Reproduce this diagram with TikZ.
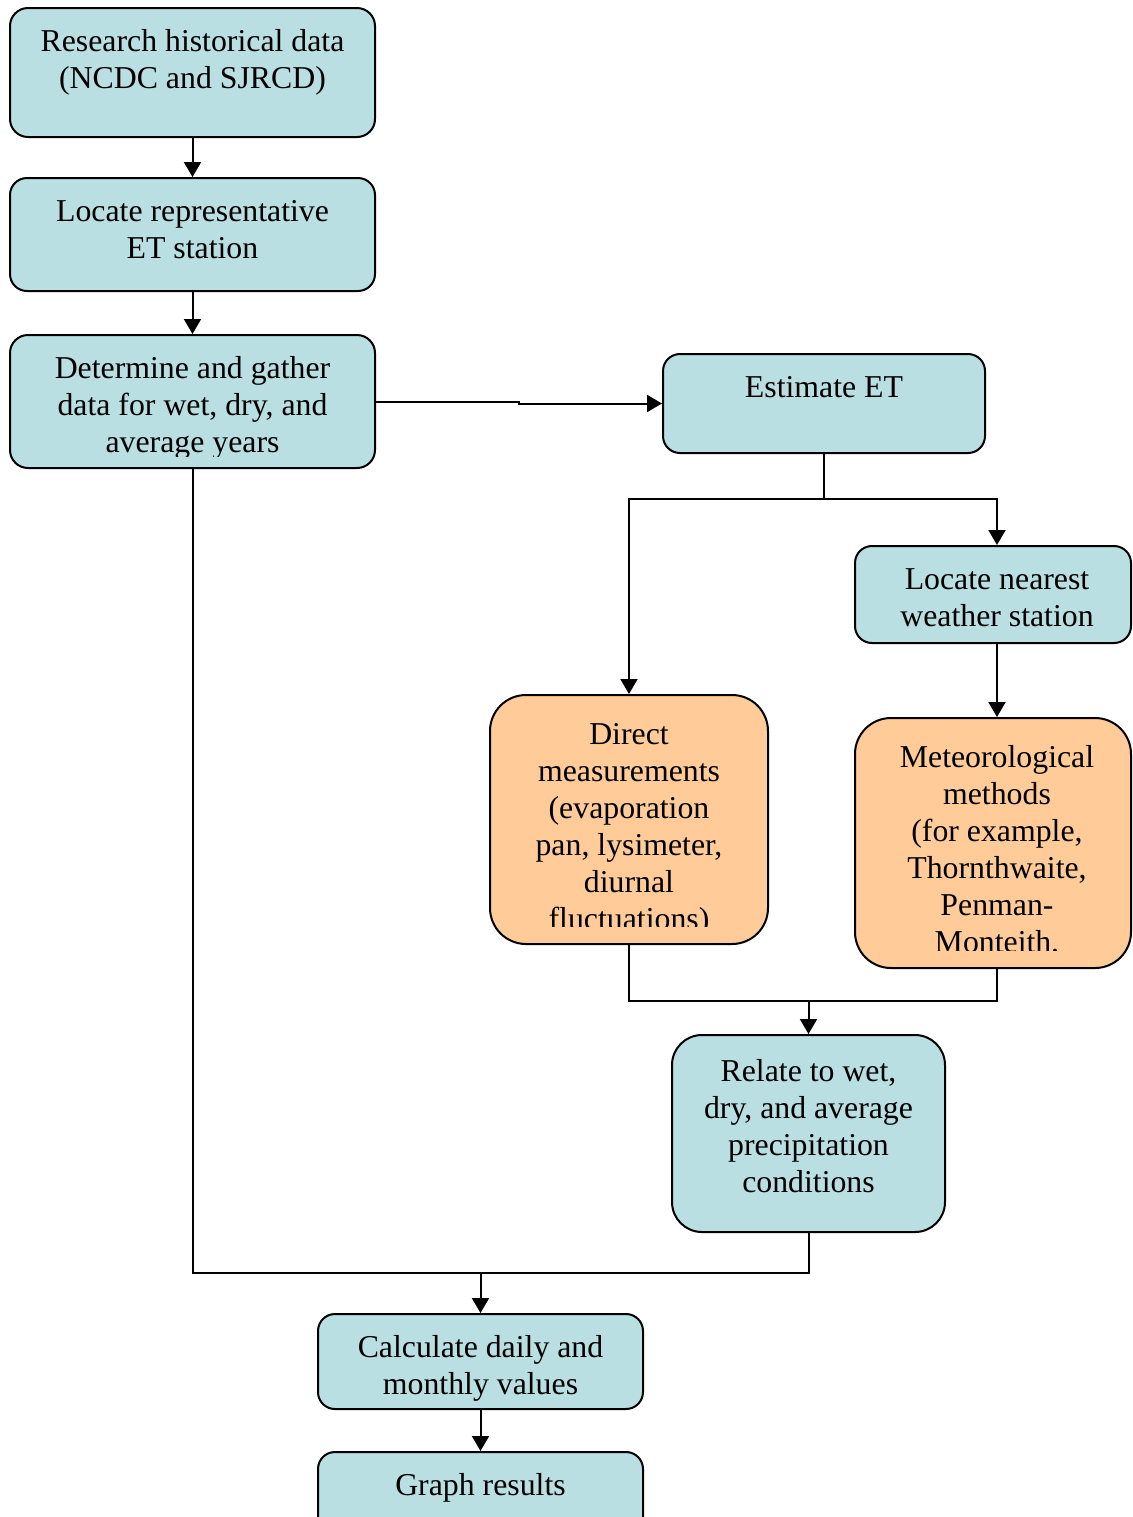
\documentclass[tikz,border=0pt]{standalone}
\usepackage{fontspec}
\setmainfont{Liberation Serif}
\usepackage{xcolor}
\usepackage{tikz}
\usetikzlibrary{arrows.meta,positioning}

\definecolor{boxteal}{RGB}{185,223,227}
\definecolor{boxtan}{RGB}{255,203,153}

\tikzset{
  flowbox/.style={draw, line width=1pt, inner sep=0pt},
  tealbox/.style={flowbox, fill=boxteal, rounded corners=8.5pt},
  tanbox/.style={flowbox, fill=boxtan, rounded corners=18pt},
  boxtext/.style={anchor=north, align=center, inner sep=0pt,
    font=\fontsize{15.9pt}{18.5pt}\selectfont},
  flow/.style={line width=1pt, -{Triangle[length=7.5pt,width=8.5pt]}},
  link/.style={line width=1pt},
}

\begin{document}
\begin{tikzpicture}[x=0.5pt, y=-0.5pt]
    \path[use as bounding box, clip] (0,0) rectangle (1132,1517);

    % Left column
    \node[tealbox, minimum width=182.5pt, minimum height=64.5pt, rounded corners=9pt] (research) at (192.5,72.5) {};
    \node[tealbox, minimum width=182.5pt, minimum height=56.5pt] (locrep) at (192.5,234.5) {};
    \node[tealbox, minimum width=182.5pt, minimum height=66.5pt, rounded corners=9pt] (determine) at (192.5,401.5) {};

    \node[boxtext] (research-t) at ([yshift=-9pt]research.north) {\strut Research historical data\\(NCDC and SJRCD)};
    \node[boxtext] (locrep-t) at ([yshift=-9pt]locrep.north) {\strut Locate representative\\ET station};
    \begin{scope}
        \clip (determine.north west) rectangle ([yshift=6.5pt]determine.south east);
        \node[boxtext] (determine-t) at ([yshift=-9pt]determine.north) {\strut Determine and gather\\data for wet, dry, and\\average years};
    \end{scope}

    % ET branch
    \coordinate (rightcol) at (997,0);
    \node[tealbox, minimum width=161pt, minimum height=49.5pt] (estimate) at (824,403.5) {};
    \node[tealbox, minimum width=138pt, minimum height=48.5pt] (locnear) at (993,594.5) {};
    \node[tanbox, minimum width=139pt, minimum height=124.5pt] (direct) at (629,819.5) {};
    \node[tanbox, minimum width=138pt, minimum height=125pt] (meteo) at (993,843) {};
    \node[tealbox, minimum width=136.5pt, minimum height=98.5pt, rounded corners=15pt] (relate) at (808.5,1133.5) {};

    \node[boxtext] (estimate-t) at ([yshift=-9pt]estimate.north) {\strut Estimate ET};
    \node[boxtext] (locnear-t) at ([yshift=-9pt]locnear.north -| rightcol) {\strut Locate nearest\\weather station};
    \begin{scope}
        \clip (direct.north west) rectangle ([yshift=9.5pt]direct.south east);
        \node[boxtext] (direct-t) at ([yshift=-12pt]direct.north) {\strut Direct\\measurements\\(evaporation\\pan, lysimeter,\\diurnal\\fluctuations)};
    \end{scope}
    \begin{scope}
        \clip (meteo.north west) rectangle ([yshift=9.5pt]meteo.south east);
        \node[boxtext] (meteo-t) at ([yshift=-12pt]meteo.north -| rightcol) {\strut Meteorological\\methods\\(for example,\\Thornthwaite,\\Penman-\\Monteith,};
    \end{scope}
    \node[boxtext] (relate-t) at ([yshift=-10.5pt]relate.north) {\strut Relate to wet,\\dry, and average\\precipitation\\conditions};

    % Bottom
    \node[tealbox, minimum width=162.5pt, minimum height=47.5pt] (calc) at (480.5,1361.5) {};
    \node[tealbox, minimum width=162.5pt, minimum height=47.5pt] (graph) at (480.5,1499.5) {};
    \node[boxtext] (calc-t) at ([yshift=-9pt]calc.north) {\strut Calculate daily and\\monthly values};
    \node[boxtext] (graph-t) at ([yshift=-9pt]graph.north) {\strut Graph results};

    % Connectors
    \draw[flow] (research) -- (locrep);
    \draw[flow] (locrep) -- (determine);
    \draw[flow] (determine.east) -- ++(143,0) |- (estimate.west);

    \coordinate (split) at (824,499);
    \draw[link] (estimate.south) -- (split);
    \draw[flow] (split) -| (direct.north);
    \draw[flow] (split) -| (locnear.north -| rightcol);
    \draw[flow] (locnear.south -| rightcol) -- (meteo.north -| rightcol);

    \coordinate (join) at (808.5,1001);
    \draw[link] (direct.south) -- (direct.south |- join) -- (join -| rightcol) -- (meteo.south -| rightcol);
    \draw[flow] (join) -- (relate.north);

    \coordinate (merge) at (480.5,1273);
    \draw[link] (determine.south) |- (relate.south |- merge) -- (relate.south);
    \draw[flow] (merge) -- (calc.north);
    \draw[flow] (calc) -- (graph);
\end{tikzpicture}
\end{document}
